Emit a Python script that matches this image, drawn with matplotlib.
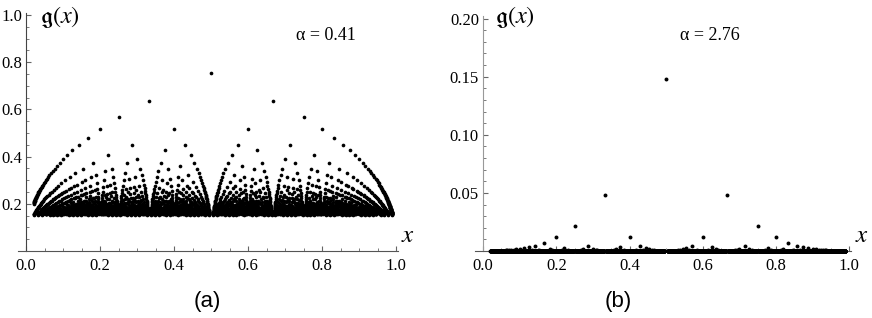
import math
import numpy as np
import matplotlib
matplotlib.use('Agg')
import matplotlib.pyplot as plt
from matplotlib.ticker import MultipleLocator, FormatStrFormatter

# Chart data: the rationals p/q (0.02 <= p/q < 1) and the value at each
# denominator q
denominators = list(range(2, 96))
x_lowest = 0.02

heights_a = [0.7526, 0.6374, 0.5664, 0.5169, 0.4797, 0.4503, 0.4263, 0.4062, 0.3890,
             0.3741, 0.3610, 0.3494, 0.3389, 0.3295, 0.3209, 0.3130, 0.3057, 0.2990,
             0.2928, 0.2870, 0.2816, 0.2765, 0.2717, 0.2672, 0.2630, 0.2589, 0.2551,
             0.2515, 0.2480, 0.2447, 0.2415, 0.2384, 0.2356, 0.2328, 0.2301, 0.2275,
             0.2251, 0.2227, 0.2204, 0.2182, 0.2160, 0.2139, 0.2119, 0.2100, 0.2081,
             0.2063, 0.2045, 0.2028, 0.2011, 0.1995, 0.1979, 0.1964, 0.1949, 0.1934,
             0.1920, 0.1906, 0.1892, 0.1879, 0.1866, 0.1853, 0.1841, 0.1829, 0.1818,
             0.1806, 0.1795, 0.1784, 0.1773, 0.1762, 0.1752, 0.1742, 0.1732, 0.1722,
             0.1712, 0.1703, 0.1694, 0.1685, 0.1676, 0.1667, 0.1658, 0.1650, 0.1642,
             0.1634, 0.1626, 0.1618, 0.1610, 0.1602, 0.1595, 0.1588, 0.1580, 0.1573,
             0.1566, 0.1559, 0.1552, 0.1546]

# panel (b): only the small denominators leave the axis, the rest sit on it
heights_b_top = [0.1476, 0.0482, 0.0218, 0.0118, 0.0071, 0.0047, 0.0032, 0.0023, 0.0017,
                 0.0013, 0.0011, 0.0008, 0.0007, 0.0006, 0.0005, 0.0004, 0.0003, 0.0003,
                 0.0003]
heights_b = heights_b_top + [0.0] * (len(denominators) - len(heights_b_top))

x_ticks = [0.0, 0.2, 0.4, 0.6, 0.8, 1.0]
y_ticks_a = [0.2, 0.4, 0.6, 0.8, 1.0]
y_ticks_b = [0.05, 0.10, 0.15, 0.20]
labels = ['\u03b1 = 0.41', '\u03b1 = 2.76']
panel_tags = ['(a)', '(b)']

# Build point lists
xs, qs_idx = [], []
for i, q in enumerate(denominators):
    for p in range(1, q):
        if math.gcd(p, q) == 1 and p / q >= x_lowest:
            xs.append(p / q)
            qs_idx.append(i)
xs = np.array(xs)
ya = np.array(heights_a)[qs_idx]
yb = np.array(heights_b)[qs_idx]

plt.rcParams['font.family'] = 'Liberation Serif'
plt.rcParams['mathtext.fontset'] = 'stix'

W, H = 872, 318
fig = plt.figure(figsize=(W / 100, H / 100), dpi=100)

def px_axes(left, top, right, bottom):
    return fig.add_axes([left / W, 1 - bottom / H, (right - left) / W, (bottom - top) / H])

ax1 = px_axes(18, 12.6, 398, 251)
ax2 = px_axes(475, 15.7, 851, 251)

setup = [
    (ax1, ya, (0, 1.01), y_ticks_a, 0.05, '%.1f', '#444444', labels[0], (326, 36), 7),
    (ax2, yb, (0, 0.2025), y_ticks_b, 0.01, '%.2f', '#999999', labels[1], (710, 36), 8),
]

for ax, y, ylim, yticks, ymin, yfmt, ycol, lab, labpos, ms in setup:
    ax.scatter(xs, y, s=ms, color='black', linewidths=0, zorder=3, clip_on=False)
    for s in ['top', 'right']:
        ax.spines[s].set_visible(False)
    ax.spines['left'].set_position(('data', 0))
    ax.spines['left'].set_color(ycol)
    ax.spines['bottom'].set_color('#555555')
    ax.set_xticks(x_ticks)
    ax.xaxis.set_minor_locator(MultipleLocator(0.05))
    ax.xaxis.set_major_formatter(FormatStrFormatter('%.1f'))
    ax.set_yticks(yticks)
    ax.yaxis.set_minor_locator(MultipleLocator(ymin))
    ax.yaxis.set_major_formatter(FormatStrFormatter(yfmt))
    ax.set_xlim(-0.022, 1.005)
    ax.set_ylim(*ylim)
    ax.tick_params(which='both', direction='in', colors='#666666', labelcolor='black',
                   labelsize=12)
    ax.tick_params(which='major', length=3.5, width=0.8)
    ax.tick_params(which='minor', length=2, width=0.6)
    ax.tick_params(axis='x', pad=5)
    ax.tick_params(axis='y', pad=3)
    ax.patch.set_visible(False)
    fig.text(labpos[0] / W, 1 - labpos[1] / H, lab, fontsize=13, ha='center', va='center')

# axis titles
fig.text(40 / W, 1 - 17 / H, r'$\mathfrak{g}(x)$', fontsize=17.5, ha='left', va='center')
fig.text(495 / W, 1 - 17 / H, r'$\mathfrak{g}(x)$', fontsize=17.5, ha='left', va='center')
fig.text(408 / W, 1 - 236 / H, r'$x$', fontsize=18, ha='center', va='center')
fig.text(862 / W, 1 - 236 / H, r'$x$', fontsize=18, ha='center', va='center')

# panel tags
fig.text(207 / W, 1 - 302 / H, panel_tags[0], fontsize=16, family='Liberation Sans',
         ha='center', va='center')
fig.text(618 / W, 1 - 302 / H, panel_tags[1], fontsize=16, family='Liberation Sans',
         ha='center', va='center')

fig.savefig('out.png', dpi=100, facecolor='white')
